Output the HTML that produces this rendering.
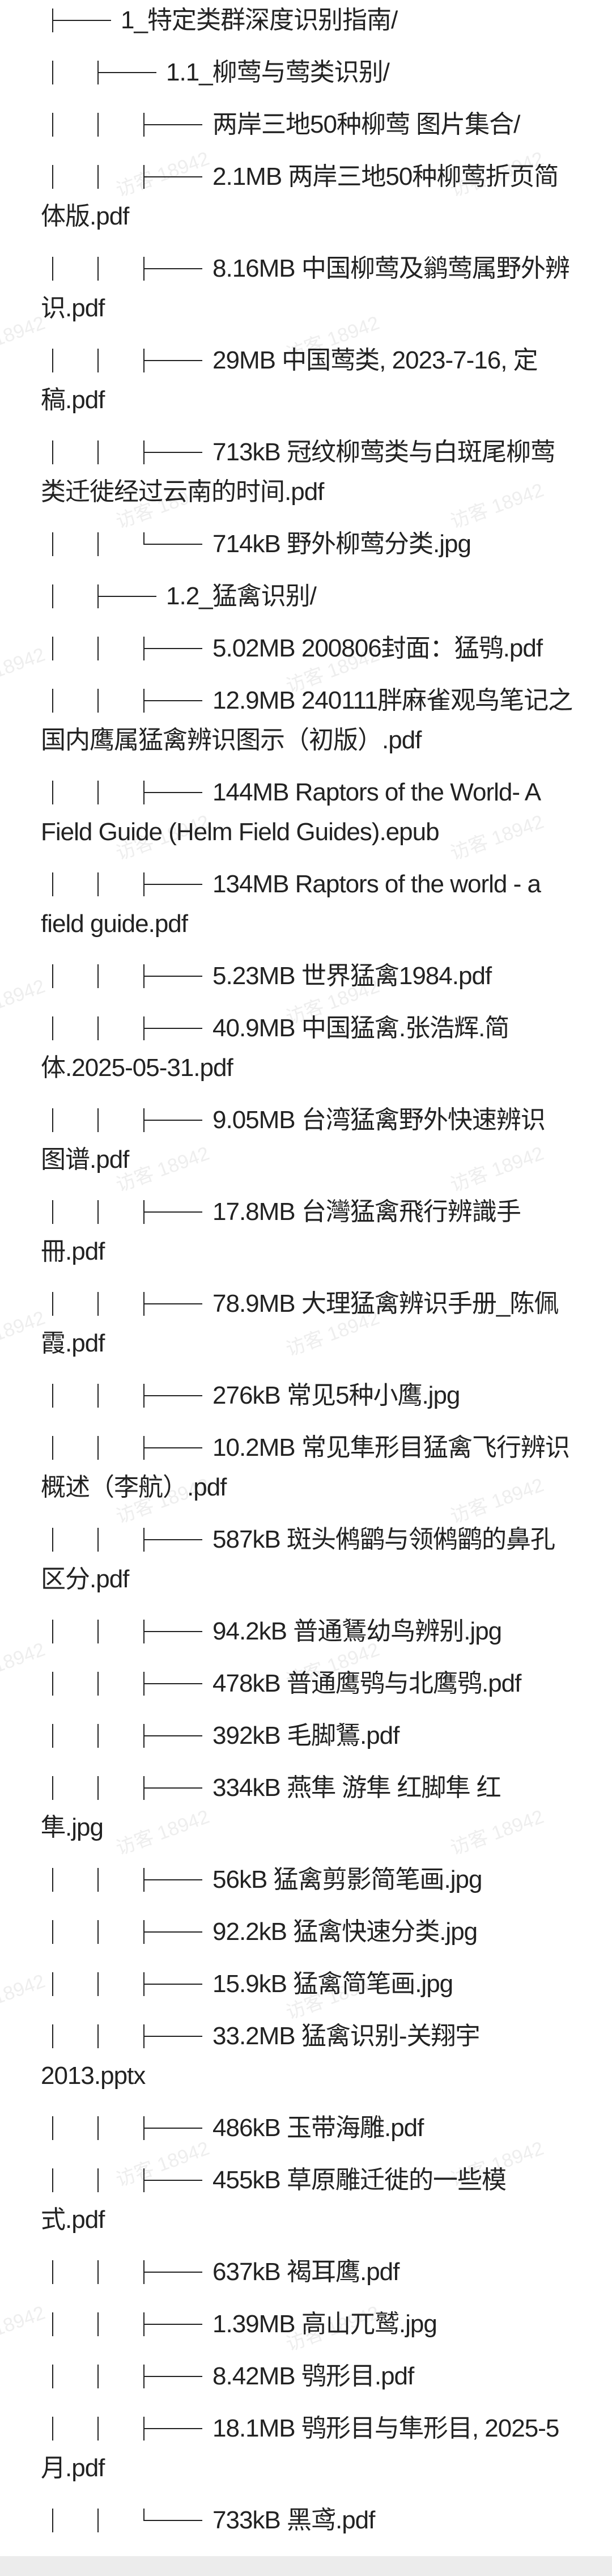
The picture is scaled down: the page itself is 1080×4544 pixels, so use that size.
<!DOCTYPE html>
<html><head><meta charset="utf-8">
<style>
html,body{margin:0;padding:0;background:#fff;width:1080px;height:4544px;overflow:hidden;}
#page{position:relative;width:1080px;height:4544px;overflow:hidden;
font-family:"Liberation Sans","Noto Sans CJK SC",sans-serif;color:#222;font-size:44px;letter-spacing:-1px;}
#wrap{position:absolute;left:0;top:1px;width:1080px;z-index:2;}
.p{position:relative;line-height:70px;margin-bottom:22px;white-space:nowrap;}
.v{position:absolute;top:14px;width:2px;height:42px;background:#222;}
.c{position:absolute;top:14px;width:2px;height:21px;background:#222;}
.h{position:absolute;top:34px;height:2px;width:104px;background:#222;}
.l1{padding-left:213px}.l2{padding-left:293px}.l3{padding-left:375px}
.w{padding-left:72px}
.wm{position:absolute;color:#eeeeee;font-size:34px;transform:rotate(-20deg);z-index:1;white-space:nowrap;letter-spacing:0}
#foot{position:absolute;left:0;top:4509px;width:1080px;height:35px;background:#ececec;z-index:3;}
</style></head><body>
<div id="page">
<div id="wms"></div>
<div id="wrap">
<div class="p"><span class="v" style="left:92px"></span><span class="h" style="left:92px"></span><div class="l1">1_特定类群深度识别指南/</div></div>
<div class="p"><span class="v" style="left:92px"></span><span class="v" style="left:172px"></span><span class="h" style="left:172px"></span><div class="l2">1.1_柳莺与莺类识别/</div></div>
<div class="p"><span class="v" style="left:92px"></span><span class="v" style="left:172px"></span><span class="v" style="left:253px"></span><span class="h" style="left:253px"></span><div class="l3">两岸三地50种柳莺 图片集合/</div></div>
<div class="p"><span class="v" style="left:92px"></span><span class="v" style="left:172px"></span><span class="v" style="left:253px"></span><span class="h" style="left:253px"></span><div class="l3">2.1MB 两岸三地50种柳莺折页简</div><div class="w">体版.pdf</div></div>
<div class="p"><span class="v" style="left:92px"></span><span class="v" style="left:172px"></span><span class="v" style="left:253px"></span><span class="h" style="left:253px"></span><div class="l3">8.16MB 中国柳莺及鹟莺属野外辨</div><div class="w">识.pdf</div></div>
<div class="p"><span class="v" style="left:92px"></span><span class="v" style="left:172px"></span><span class="v" style="left:253px"></span><span class="h" style="left:253px"></span><div class="l3">29MB 中国莺类, 2023-7-16, 定</div><div class="w">稿.pdf</div></div>
<div class="p"><span class="v" style="left:92px"></span><span class="v" style="left:172px"></span><span class="v" style="left:253px"></span><span class="h" style="left:253px"></span><div class="l3">713kB 冠纹柳莺类与白斑尾柳莺</div><div class="w">类迁徙经过云南的时间.pdf</div></div>
<div class="p"><span class="v" style="left:92px"></span><span class="v" style="left:172px"></span><span class="c" style="left:253px"></span><span class="h" style="left:253px"></span><div class="l3">714kB 野外柳莺分类.jpg</div></div>
<div class="p"><span class="v" style="left:92px"></span><span class="v" style="left:172px"></span><span class="h" style="left:172px"></span><div class="l2">1.2_猛禽识别/</div></div>
<div class="p"><span class="v" style="left:92px"></span><span class="v" style="left:172px"></span><span class="v" style="left:253px"></span><span class="h" style="left:253px"></span><div class="l3">5.02MB 200806封面：猛鸮.pdf</div></div>
<div class="p"><span class="v" style="left:92px"></span><span class="v" style="left:172px"></span><span class="v" style="left:253px"></span><span class="h" style="left:253px"></span><div class="l3">12.9MB 240111胖麻雀观鸟笔记之</div><div class="w">国内鹰属猛禽辨识图示（初版）.pdf</div></div>
<div class="p"><span class="v" style="left:92px"></span><span class="v" style="left:172px"></span><span class="v" style="left:253px"></span><span class="h" style="left:253px"></span><div class="l3">144MB Raptors of the World- A</div><div class="w">Field Guide (Helm Field Guides).epub</div></div>
<div class="p"><span class="v" style="left:92px"></span><span class="v" style="left:172px"></span><span class="v" style="left:253px"></span><span class="h" style="left:253px"></span><div class="l3">134MB Raptors of the world - a</div><div class="w">field guide.pdf</div></div>
<div class="p"><span class="v" style="left:92px"></span><span class="v" style="left:172px"></span><span class="v" style="left:253px"></span><span class="h" style="left:253px"></span><div class="l3">5.23MB 世界猛禽1984.pdf</div></div>
<div class="p"><span class="v" style="left:92px"></span><span class="v" style="left:172px"></span><span class="v" style="left:253px"></span><span class="h" style="left:253px"></span><div class="l3">40.9MB 中国猛禽.张浩辉.简</div><div class="w">体.2025-05-31.pdf</div></div>
<div class="p"><span class="v" style="left:92px"></span><span class="v" style="left:172px"></span><span class="v" style="left:253px"></span><span class="h" style="left:253px"></span><div class="l3">9.05MB 台湾猛禽野外快速辨识</div><div class="w">图谱.pdf</div></div>
<div class="p"><span class="v" style="left:92px"></span><span class="v" style="left:172px"></span><span class="v" style="left:253px"></span><span class="h" style="left:253px"></span><div class="l3">17.8MB 台灣猛禽飛行辨識手</div><div class="w">冊.pdf</div></div>
<div class="p"><span class="v" style="left:92px"></span><span class="v" style="left:172px"></span><span class="v" style="left:253px"></span><span class="h" style="left:253px"></span><div class="l3">78.9MB 大理猛禽辨识手册_陈佩</div><div class="w">霞.pdf</div></div>
<div class="p"><span class="v" style="left:92px"></span><span class="v" style="left:172px"></span><span class="v" style="left:253px"></span><span class="h" style="left:253px"></span><div class="l3">276kB 常见5种小鹰.jpg</div></div>
<div class="p"><span class="v" style="left:92px"></span><span class="v" style="left:172px"></span><span class="v" style="left:253px"></span><span class="h" style="left:253px"></span><div class="l3">10.2MB 常见隼形目猛禽飞行辨识</div><div class="w">概述（李航）.pdf</div></div>
<div class="p"><span class="v" style="left:92px"></span><span class="v" style="left:172px"></span><span class="v" style="left:253px"></span><span class="h" style="left:253px"></span><div class="l3">587kB 斑头鸺鹠与领鸺鹠的鼻孔</div><div class="w">区分.pdf</div></div>
<div class="p"><span class="v" style="left:92px"></span><span class="v" style="left:172px"></span><span class="v" style="left:253px"></span><span class="h" style="left:253px"></span><div class="l3">94.2kB 普通鵟幼鸟辨别.jpg</div></div>
<div class="p"><span class="v" style="left:92px"></span><span class="v" style="left:172px"></span><span class="v" style="left:253px"></span><span class="h" style="left:253px"></span><div class="l3">478kB 普通鹰鸮与北鹰鸮.pdf</div></div>
<div class="p"><span class="v" style="left:92px"></span><span class="v" style="left:172px"></span><span class="v" style="left:253px"></span><span class="h" style="left:253px"></span><div class="l3">392kB 毛脚鵟.pdf</div></div>
<div class="p"><span class="v" style="left:92px"></span><span class="v" style="left:172px"></span><span class="v" style="left:253px"></span><span class="h" style="left:253px"></span><div class="l3">334kB 燕隼 游隼 红脚隼 红</div><div class="w">隼.jpg</div></div>
<div class="p"><span class="v" style="left:92px"></span><span class="v" style="left:172px"></span><span class="v" style="left:253px"></span><span class="h" style="left:253px"></span><div class="l3">56kB 猛禽剪影简笔画.jpg</div></div>
<div class="p"><span class="v" style="left:92px"></span><span class="v" style="left:172px"></span><span class="v" style="left:253px"></span><span class="h" style="left:253px"></span><div class="l3">92.2kB 猛禽快速分类.jpg</div></div>
<div class="p"><span class="v" style="left:92px"></span><span class="v" style="left:172px"></span><span class="v" style="left:253px"></span><span class="h" style="left:253px"></span><div class="l3">15.9kB 猛禽简笔画.jpg</div></div>
<div class="p"><span class="v" style="left:92px"></span><span class="v" style="left:172px"></span><span class="v" style="left:253px"></span><span class="h" style="left:253px"></span><div class="l3">33.2MB 猛禽识别-关翔宇</div><div class="w">2013.pptx</div></div>
<div class="p"><span class="v" style="left:92px"></span><span class="v" style="left:172px"></span><span class="v" style="left:253px"></span><span class="h" style="left:253px"></span><div class="l3">486kB 玉带海雕.pdf</div></div>
<div class="p"><span class="v" style="left:92px"></span><span class="v" style="left:172px"></span><span class="v" style="left:253px"></span><span class="h" style="left:253px"></span><div class="l3">455kB 草原雕迁徙的一些模</div><div class="w">式.pdf</div></div>
<div class="p"><span class="v" style="left:92px"></span><span class="v" style="left:172px"></span><span class="v" style="left:253px"></span><span class="h" style="left:253px"></span><div class="l3">637kB 褐耳鹰.pdf</div></div>
<div class="p"><span class="v" style="left:92px"></span><span class="v" style="left:172px"></span><span class="v" style="left:253px"></span><span class="h" style="left:253px"></span><div class="l3">1.39MB 高山兀鹫.jpg</div></div>
<div class="p"><span class="v" style="left:92px"></span><span class="v" style="left:172px"></span><span class="v" style="left:253px"></span><span class="h" style="left:253px"></span><div class="l3">8.42MB 鸮形目.pdf</div></div>
<div class="p"><span class="v" style="left:92px"></span><span class="v" style="left:172px"></span><span class="v" style="left:253px"></span><span class="h" style="left:253px"></span><div class="l3">18.1MB 鸮形目与隼形目, 2025-5</div><div class="w">月.pdf</div></div>
<div class="p"><span class="v" style="left:92px"></span><span class="v" style="left:172px"></span><span class="c" style="left:253px"></span><span class="h" style="left:253px"></span><div class="l3">733kB 黑鸢.pdf</div></div>
</div>
<div id="foot"></div>
</div>
<script>
var w=document.getElementById('wms'),h='';
for(var y=280;y<4200;y+=585){
 h+='<div class="wm" style="left:200px;top:'+y+'px">访客 18942</div>';
 h+='<div class="wm" style="left:790px;top:'+y+'px">访客 18942</div>';
 if(y+290<4200){
 h+='<div class="wm" style="left:-90px;top:'+(y+290)+'px">访客 18942</div>';
 h+='<div class="wm" style="left:500px;top:'+(y+290)+'px">访客 18942</div>';}
}
w.innerHTML=h;
</script>
</body></html>
